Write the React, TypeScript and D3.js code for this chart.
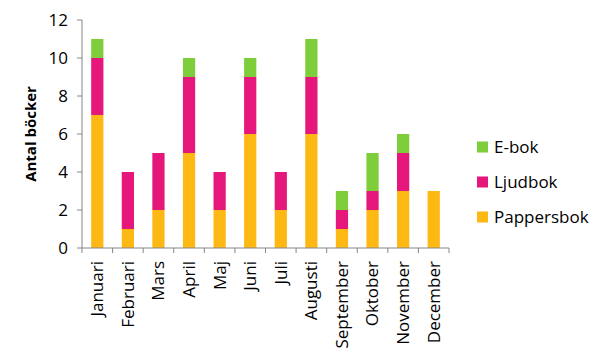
import React from "react";
import * as d3 from "d3";

const months = ["Januari","Februari","Mars","April","Maj","Juni","Juli","Augusti","September","Oktober","November","December"];
const pappersbok = [7,1,2,5,2,6,2,6,1,2,3,3];
const ljudbok = [3,3,3,4,2,3,2,3,1,1,2,0];
const ebok = [1,0,0,1,0,1,0,2,1,2,1,0];
const seriesNames = ["Pappersbok","Ljudbok","E-bok"];
const seriesColors = ["#fdb813","#e6177a","#7dce3a"];
const yTicks = [0,2,4,6,8,10,12];

const W = 600, H = 360;
const left = 82, right = 449, top = 20, bottom = 248;
const font = "'Open Sans', sans-serif";

export default function App() {
  const x = d3.scaleBand().domain(months).range([left, right]).paddingInner(0.6).paddingOuter(0.3);
  const band = d3.scaleBand().domain(months).range([left, right]);
  const y = d3.scaleLinear().domain([0, 12]).range([bottom, top]);
  const rows = months.map((m, i) => ({ m, Pappersbok: pappersbok[i], Ljudbok: ljudbok[i], "E-bok": ebok[i] }));
  const stacked = d3.stack<any>().keys(seriesNames)(rows);
  const axisColor = "#868686";
  const legendOrder = [2, 1, 0];
  return (
    <svg width={W} height={H} style={{ position: "absolute", left: 0, top: 0, background: "#fff" }} fontFamily={font}>
      {stacked.map((s, si) => (
        <g key={si} fill={seriesColors[si]}>
          {s.map((d, i) => d[1] - d[0] > 0 ? (
            <rect key={i} x={x(months[i])} width={x.bandwidth()} y={y(d[1])} height={y(d[0]) - y(d[1])} />
          ) : null)}
        </g>
      ))}
      <line x1={left} x2={left} y1={top} y2={bottom} stroke={axisColor} />
      {yTicks.map(t => (
        <g key={t}>
          <line x1={left - 5} x2={left} y1={y(t)} y2={y(t)} stroke={axisColor} />
          <text x={left - 14} y={y(t)} dy="0.35em" textAnchor="end" fontSize={17}>{t}</text>
        </g>
      ))}
      <line x1={left} x2={right} y1={bottom} y2={bottom} stroke={axisColor} />
      {months.map((m, i) => (
        <line key={m} x1={band(m)! + band.bandwidth()} x2={band(m)! + band.bandwidth()} y1={bottom} y2={bottom + 5} stroke={axisColor} />
      ))}
      <line x1={left} x2={left} y1={bottom} y2={bottom + 5} stroke={axisColor} />
      {months.map(m => {
        const cx = band(m)! + band.bandwidth() / 2;
        return (
          <text key={m} transform={`translate(${cx},${bottom + 13}) rotate(-90)`} textAnchor="end" dy="0.35em" fontSize={17}>{m}</text>
        );
      })}
      <text transform={`translate(31,134) rotate(-90)`} textAnchor="middle" dy="0.35em" fontSize={15} fontWeight="bold">Antal böcker</text>
      {legendOrder.map((si, k) => (
        <g key={si} transform={`translate(477,${147 + k * 35})`}>
          <rect x={0} y={-5.5} width={11} height={11} fill={seriesColors[si]} />
          <text x={17} y={0} dy="0.35em" fontSize={17}>{seriesNames[si]}</text>
        </g>
      ))}
    </svg>
  );
}
